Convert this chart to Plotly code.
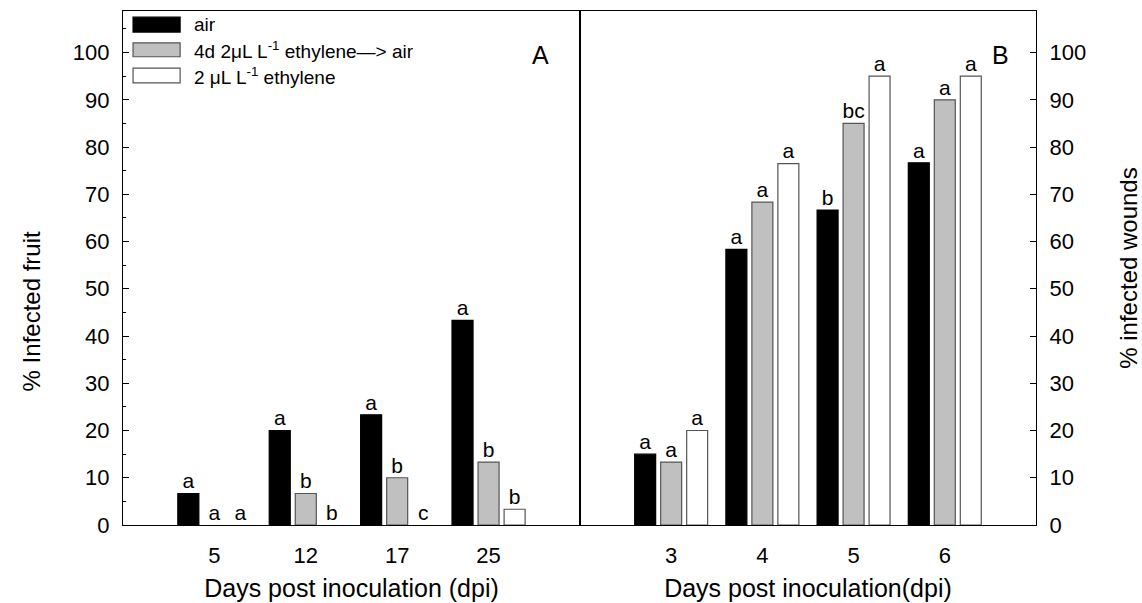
import plotly.graph_objects as go

# ---- data ----
days_A = ["5", "12", "17", "25"]
days_B = ["3", "4", "5", "6"]
series_names = ["air", "4d 2μL L<sup>-1</sup> ethylene—> air", "2 μL L<sup>-1</sup> ethylene"]

air_A = [6.67, 20.0, 23.33, 43.33]
pre_A = [0.0, 6.67, 10.0, 13.33]
eth_A = [0.0, 0.0, 0.0, 3.33]
let_air_A = ["a", "a", "a", "a"]
let_pre_A = ["a", "b", "b", "b"]
let_eth_A = ["a", "b", "c", "b"]

air_B = [15.0, 58.33, 66.67, 76.67]
pre_B = [13.33, 68.33, 85.0, 90.0]
eth_B = [20.0, 76.5, 95.0, 95.0]
let_air_B = ["a", "a", "b", "a"]
let_pre_B = ["a", "a", "bc", "a"]
let_eth_B = ["a", "a", "a", "a"]

y_ticks = [0, 10, 20, 30, 40, 50, 60, 70, 80, 90, 100]

# ---- styles ----
FONT = "Liberation Sans, Arial, sans-serif"
fills = ["#000000", "#c0c0c0", "#ffffff"]
edges = ["#000000", "#555555", "#555555"]
shifts = [-0.285, 0.0, 0.285]
BW = 0.23

fig = go.Figure()

panels = [
    ("x", "y", days_A, [air_A, pre_A, eth_A], [let_air_A, let_pre_A, let_eth_A]),
    ("x2", "y2", days_B, [air_B, pre_B, eth_B], [let_air_B, let_pre_B, let_eth_B]),
]

for xa, ya, days, series, letters in panels:
    pos = list(range(1, len(days) + 1))
    for i, (vals, lets) in enumerate(zip(series, letters)):
        fig.add_trace(go.Bar(
            x=pos, y=vals, width=BW, offset=shifts[i] - BW / 2,
            marker=dict(color=fills[i],
                        line=dict(color=edges[i], width=[1.2 if v > 0 else 0 for v in vals])),
            name=series_names[i], showlegend=False, xaxis=xa, yaxis=ya,
        ))
        fig.add_trace(go.Scatter(
            x=[p + shifts[i] for p in pos], y=vals, text=lets, mode="text",
            textposition="top center", textfont=dict(size=21, color="black", family=FONT),
            showlegend=False, xaxis=xa, yaxis=ya, hoverinfo="skip",
        ))

# manual legend (wide swatches like the reference)
leg_rows = [(0.988, 0.959, 0.973), (0.938, 0.911, 0.924), (0.889, 0.860, 0.874)]
for i, (y1, y0, yc) in enumerate(leg_rows):
    fig.add_shape(type="rect", xref="x domain", yref="y domain",
                  x0=0.022, x1=0.125, y0=y0, y1=y1,
                  fillcolor=fills[i], line=dict(color=edges[i], width=1.2))
    fig.add_annotation(xref="x domain", yref="y domain", x=0.151, y=yc,
                       text=series_names[i], showarrow=False, xanchor="left",
                       yanchor="middle", font=dict(size=19, family=FONT, color="black"))

fig.add_annotation(xref="x domain", yref="y domain", x=0.9365, y=0.9455, text="A",
                   showarrow=False, font=dict(size=25, family=FONT, color="black"))
fig.add_annotation(xref="x2 domain", yref="y2 domain", x=0.945, y=0.9455, text="B",
                   showarrow=False, font=dict(size=25, family=FONT, color="black"))

# left y title (placed like the reference, slightly below centre)
fig.add_annotation(xref="paper", yref="paper", x=-0.1, y=0.415, text="% Infected fruit",
                   textangle=-90, showarrow=False, xanchor="center", yanchor="middle",
                   font=dict(size=24, family=FONT, color="black"))

axis_common = dict(showline=True, linecolor="black", linewidth=1.3, mirror=True,
                   showgrid=False, zeroline=False, automargin=False)

xa_common = dict(axis_common, range=[0, 5], tickvals=[1, 2, 3, 4], ticks="",
                 tickfont=dict(size=22, family=FONT, color="black"),
                 ticklabelstandoff=10)

fig.update_layout(
    width=1142, height=603,
    margin=dict(l=123, r=106, t=11, b=78),
    plot_bgcolor="white", paper_bgcolor="white",
    barmode="overlay",
    font=dict(family=FONT, color="black"),
    xaxis=dict(xa_common, domain=[0, 0.5005], ticktext=days_A, anchor="y",
               title=dict(text="Days post inoculation (dpi)", font=dict(size=25), standoff=12)),
    xaxis2=dict(xa_common, domain=[0.5005, 1], ticktext=days_B, anchor="y2",
                title=dict(text="Days post inoculation(dpi)", font=dict(size=25), standoff=12)),
    yaxis=dict(axis_common, range=[0, 108.8], tickvals=y_ticks, ticks="inside", ticklen=6,
               tickcolor="black", tickfont=dict(size=22, family=FONT, color="black"),
               minor=dict(dtick=5, tick0=0, ticks="inside", ticklen=3, tickcolor="black"),
               ticklabelstandoff=8, anchor="x"),
    yaxis2=dict(axis_common, range=[0, 108.8], tickvals=y_ticks, ticks="inside", ticklen=6,
                tickcolor="black", tickfont=dict(size=22, family=FONT, color="black"),
                side="right", anchor="x2", ticklabelstandoff=8,
                title=dict(text="% infected wounds", font=dict(size=24), standoff=34)),
)

fig.write_html("out.html")
